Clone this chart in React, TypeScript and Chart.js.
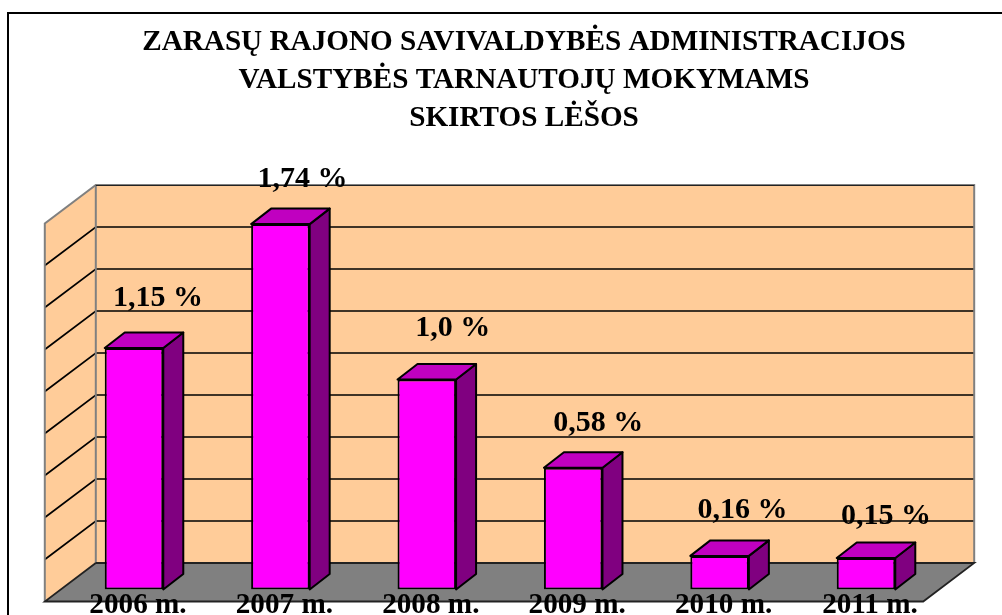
import React, { useEffect, useRef } from "react";
import { Chart, registerables } from "chart.js";

Chart.register(...registerables);

const titleLines = [
  "ZARASŲ RAJONO SAVIVALDYBĖS ADMINISTRACIJOS",
  "VALSTYBĖS TARNAUTOJŲ MOKYMAMS",
  "SKIRTOS LĖŠOS",
];
const years = ["2006 m.", "2007 m.", "2008 m.", "2009 m.", "2010 m.", "2011 m."];
const shares = [1.15, 1.74, 1.0, 0.58, 0.16, 0.15];
const shareLabels = ["1,15 %", "1,74 %", "1,0 %", "0,58 %", "0,16 %", "0,15 %"];

const FONT = '"Liberation Serif", "Times New Roman", serif';

const box3d = {
  id: "box3d",
  beforeDraw(chart: any) {
    const { ctx, width, height } = chart;
    ctx.save();
    ctx.fillStyle = "#fff";
    ctx.fillRect(0, 0, width, height);
    ctx.strokeStyle = "#000";
    ctx.lineWidth = 2;
    ctx.beginPath();
    ctx.moveTo(8, height);
    ctx.lineTo(8, 13);
    ctx.lineTo(width, 13);
    ctx.stroke();
    ctx.restore();
  },
  beforeDatasetsDraw(chart: any) {
    const { ctx, chartArea: a, scales } = chart;
    const y = scales.y;
    const backDx = 35;
    const backDy = -26.5;
    const frontDx = -16;
    const frontDy = 12;
    const l = a.left + backDx;
    const r = a.right + backDx;
    const t = a.top + backDy;
    const b = a.bottom + backDy;
    const sx = frontDx - backDx;
    const sy = frontDy - backDy;
    ctx.save();
    // back wall
    ctx.fillStyle = "#FFCC99";
    ctx.fillRect(l, t, r - l, b - t);
    // left wall
    ctx.beginPath();
    ctx.moveTo(l, t);
    ctx.lineTo(l + sx, t + sy);
    ctx.lineTo(l + sx, b + sy);
    ctx.lineTo(l, b);
    ctx.closePath();
    ctx.fill();
    // floor
    ctx.fillStyle = "#808080";
    ctx.beginPath();
    ctx.moveTo(l, b);
    ctx.lineTo(r, b);
    ctx.lineTo(r + sx, b + sy);
    ctx.lineTo(l + sx, b + sy);
    ctx.closePath();
    ctx.fill();
    // gridlines from the value scale
    ctx.strokeStyle = "#000";
    ctx.lineWidth = 1.7;
    for (const tick of y.ticks) {
      if (tick.value === 0 || tick.value === y.max) continue;
      const py = y.getPixelForValue(tick.value) + backDy;
      ctx.beginPath();
      ctx.moveTo(l + sx, py + sy);
      ctx.lineTo(l, py);
      ctx.lineTo(r, py);
      ctx.stroke();
    }
    // wall edges
    ctx.strokeStyle = "#808080";
    ctx.lineWidth = 2;
    ctx.beginPath();
    ctx.moveTo(l + sx, b + sy);
    ctx.lineTo(l + sx, t + sy);
    ctx.lineTo(l, t);
    ctx.lineTo(r, t);
    ctx.lineTo(r, b);
    ctx.moveTo(l, t);
    ctx.lineTo(l, b);
    ctx.stroke();
    ctx.strokeStyle = "#222";
    ctx.lineWidth = 1.2;
    ctx.beginPath();
    ctx.moveTo(l, t + 0.5);
    ctx.lineTo(r, t + 0.5);
    ctx.stroke();
    // floor edges
    ctx.strokeStyle = "#222";
    ctx.lineWidth = 1.8;
    ctx.beginPath();
    ctx.moveTo(l, b);
    ctx.lineTo(r, b);
    ctx.lineTo(r + sx, b + sy);
    ctx.lineTo(l + sx, b + sy);
    ctx.lineTo(l, b);
    ctx.stroke();
    // bar sides and tops
    const depthX = 20;
    const depthY = -15.5;
    ctx.strokeStyle = "#000";
    ctx.lineWidth = 2;
    ctx.lineJoin = "round";
    chart.getDatasetMeta(0).data.forEach((bar: any) => {
      const { x, y: top, base, width } = bar.getProps(["x", "y", "base", "width"], true);
      const x0 = x - width / 2;
      const x1 = x + width / 2;
      ctx.fillStyle = "#800080";
      ctx.beginPath();
      ctx.moveTo(x1, top);
      ctx.lineTo(x1 + depthX, top + depthY);
      ctx.lineTo(x1 + depthX, base + depthY);
      ctx.lineTo(x1, base);
      ctx.closePath();
      ctx.fill();
      ctx.stroke();
      ctx.fillStyle = "#C000C0";
      ctx.beginPath();
      ctx.moveTo(x0, top);
      ctx.lineTo(x0 + depthX, top + depthY);
      ctx.lineTo(x1 + depthX, top + depthY);
      ctx.lineTo(x1, top);
      ctx.closePath();
      ctx.fill();
      ctx.stroke();
    });
    ctx.restore();
  },
  afterDraw(chart: any) {
    const { ctx } = chart;
    const nudge = chart.options.plugins.box3d.nudge;
    ctx.save();
    ctx.fillStyle = "#000";
    ctx.font = `bold 30px ${FONT}`;
    ctx.textAlign = "center";
    ctx.textBaseline = "alphabetic";
    chart.getDatasetMeta(0).data.forEach((bar: any, i: number) => {
      const { x, y } = bar.getProps(["x", "y"], true);
      ctx.fillText(shareLabels[i], x + nudge[i][0], y - nudge[i][1]);
    });
    ctx.restore();
  },
};

export default function App() {
  const ref = useRef<HTMLCanvasElement>(null);
  useEffect(() => {
    const chart = new Chart(ref.current!, {
      type: "bar",
      data: {
        labels: years,
        datasets: [
          {
            data: shares,
            backgroundColor: "#FF00FF",
            borderColor: "#000",
            borderWidth: 2,
            borderSkipped: false,
            categoryPercentage: 1,
            barPercentage: 0.4,
          },
        ],
      },
      options: {
        responsive: false,
        animation: false,
        events: [],
        layout: { padding: { left: 60.8, right: 14.8, top: 0, bottom: 0 } },
        plugins: {
          legend: { display: false },
          tooltip: { enabled: false },
          title: {
            display: true,
            text: titleLines,
            color: "#000",
            font: { family: FONT, weight: "bold", size: 29.2, lineHeight: 38 / 29.2 },
            padding: { top: 23, bottom: 74.5 },
          },
          box3d: {
            nudge: [
              [24, 42],
              [22, 37],
              [26, 44],
              [25, 37],
              [23, 38],
              [20, 34],
            ],
          },
        } as any,
        scales: {
          x: {
            type: "category",
            offset: true,
            grid: { display: false, drawTicks: false },
            border: { display: false },
            afterFit: (s: any) => {
              s.height = 25.5;
            },
            ticks: {
              z: 1,
              color: "#000",
              font: { family: FONT, weight: "bold", size: 29.2, lineHeight: 1 },
              padding: 1,
              labelOffset: 4,
              maxRotation: 0,
              autoSkip: false,
            },
          },
          y: {
            type: "linear",
            position: "right",
            min: 0,
            max: 1.8,
            grid: { display: false, drawTicks: false },
            border: { display: false },
            afterFit: (s: any) => {
              s.width = 48;
            },
            ticks: { display: false, stepSize: 0.2 },
          },
        },
      },
      plugins: [box3d],
    } as any);
    return () => chart.destroy();
  }, []);
  return (
    <div style={{ position: "absolute", left: 0, top: 0, width: 1002, height: 615, overflow: "hidden" }}>
      <canvas ref={ref} width={1002} height={615} style={{ display: "block" }} />
    </div>
  );
}
